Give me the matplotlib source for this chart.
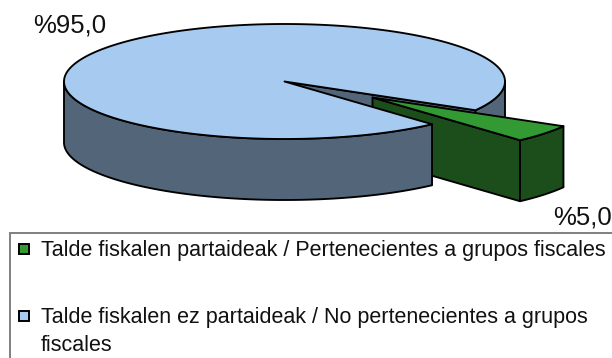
import numpy as np
import matplotlib
matplotlib.use("Agg")
import matplotlib.pyplot as plt
from matplotlib.patches import Polygon, Rectangle

plt.rcParams['font.family'] = ['Liberation Sans', 'DejaVu Sans']

shares = [5.0, 95.0]
value_labels = ['%5,0', '%95,0']
legend_labels = ['Talde fiskalen partaideak / Pertenecientes a grupos fiscales',
                 'Talde fiskalen ez partaideak / No pertenecientes a grupos\nfiscales']
top_colors = ['#339933', '#A6CAF0']
side_colors = ['#1C4E1C', '#536579']

W, H = 612, 358
fig = plt.figure(figsize=(W/100, H/100), dpi=100)
ax = fig.add_axes([0, 0, 1, 1])
ax.set_xlim(0, W); ax.set_ylim(H, 0); ax.axis('off')

cx, cy, rx, ry, depth = 284.5, 81.5, 220.5, 57.5, 61
off = (88, 16)
t_hi = -30.0
t_lo = t_hi - shares[0] / sum(shares) * 360
LW = 1.35

def rim(a, b, dx=0, dy=0, n=160):
    t = np.radians(np.linspace(a, b, n))
    return np.c_[cx + dx + rx*np.cos(t), cy + dy - ry*np.sin(t)]

def poly(pts, fc, z):
    ax.add_patch(Polygon(pts, closed=True, fc=fc, ec='black', lw=LW, joinstyle='round', zorder=z))

C = np.array([cx, cy])
D = np.array([0, depth])
O = np.array(off)

# Far side of the large slice: cut face and rim behind the gap
edge_hi = rim(t_hi, t_hi, n=1)[0]
poly([C, edge_hi, edge_hi + D, C + D], side_colors[1], 1)
back = rim(t_hi, 0)
poly(np.r_[back, (back + D)[::-1]], side_colors[1], 1)

# Exploded small slice
g_rim = rim(t_lo, t_hi, *off)
g_apex = C + O
poly([g_apex, g_rim[0], g_rim[0] + D, g_apex + D], side_colors[0], 2)
poly(np.r_[g_rim, (g_rim + D)[::-1]], side_colors[0], 2)
poly(np.r_[[g_apex], g_rim], top_colors[0], 3)

# Large slice: front rim, then top
front = rim(-180, t_lo)
poly(np.r_[front, (front + D)[::-1]], side_colors[1], 4)
poly(np.r_[[C], rim(t_hi, t_lo + 360, n=400)], top_colors[1], 5)

ax.text(70, 26, value_labels[1], fontsize=18.5, ha='center', va='center', color='#111111', zorder=6)
ax.text(583, 218, value_labels[0], fontsize=18.5, ha='center', va='center', color='#111111', zorder=6)

# Legend
ax.add_patch(Rectangle((10, 233), 640, 160, fc='white', ec='#808080', lw=1.4, zorder=6))
ys = [248, 315]
for y, lab, col in zip(ys, legend_labels, top_colors):
    ax.add_patch(Rectangle((19, y-4.5), 10, 10, fc=col, ec='black', lw=1.4, zorder=7))
    ax.text(41, y-8, lab, fontsize=15.5, ha='left', va='top', linespacing=1.42, color='#111111', zorder=7)

fig.savefig('out.png', dpi=100)
